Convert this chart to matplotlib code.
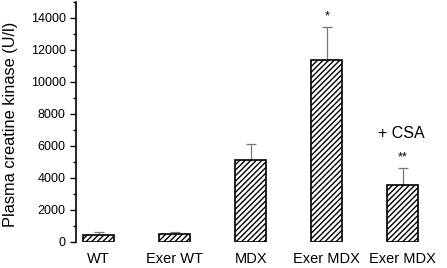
import matplotlib
matplotlib.use("Agg")
import matplotlib.pyplot as plt
from matplotlib.ticker import MultipleLocator

plt.rcParams['font.family'] = ['Liberation Sans', 'DejaVu Sans']
plt.rcParams['hatch.linewidth'] = 1.0

categories = ["WT", "Exer WT", "MDX", "Exer MDX", "Exer MDX"]
values = [420, 500, 5100, 11350, 3550]
errors = [180, 100, 1000, 2080, 1070]
marks = ["", "", "", "*", "**"]
yticks = [0, 2000, 4000, 6000, 8000, 10000, 12000, 14000]

fig = plt.figure(figsize=(4.47, 2.68), dpi=100)
ax = fig.add_axes([76/447, 1-242/268, 1-76/447, 240/268])
x = list(range(len(categories)))
ax.bar(x, values, width=0.41, color='white', edgecolor='black', hatch='//////', linewidth=1.2, zorder=2)
ax.errorbar(x, values, yerr=[[0]*len(values), errors], fmt='none', ecolor='#777777',
            elinewidth=0.9, capsize=3.5, capthick=0.9, zorder=1)
for xi, v, e, m in zip(x, values, errors, marks):
    if m:
        ax.text(xi, v + e + 500, m, ha='center', va='baseline', fontsize=9)
ax.text(x[4] - 0.02, 6500, "+ CSA", ha='center', va='baseline', fontsize=11.5)

ax.set_xlim(-0.30, 4.58)
ax.set_ylim(0, 15000)
ax.set_yticks(yticks)
ax.set_yticklabels([str(t) for t in yticks], fontsize=9)
ax.yaxis.set_minor_locator(MultipleLocator(1000))
ax.tick_params(axis='y', which='major', length=4, width=1)
ax.tick_params(axis='y', which='minor', length=2.5, width=1)
ax.set_xticks(x)
ax.set_xticklabels(categories, fontsize=10.5)
ax.tick_params(axis='x', length=0, pad=7)
for s in ['top', 'right', 'bottom']:
    ax.spines[s].set_visible(False)
ax.spines['left'].set_linewidth(1.2)
ax.set_ylabel("Plasma creatine kinase (U/l)", fontsize=11.8)
ax.yaxis.set_label_coords(-0.156, 0.49)
fig.savefig("out.png", dpi=100)
